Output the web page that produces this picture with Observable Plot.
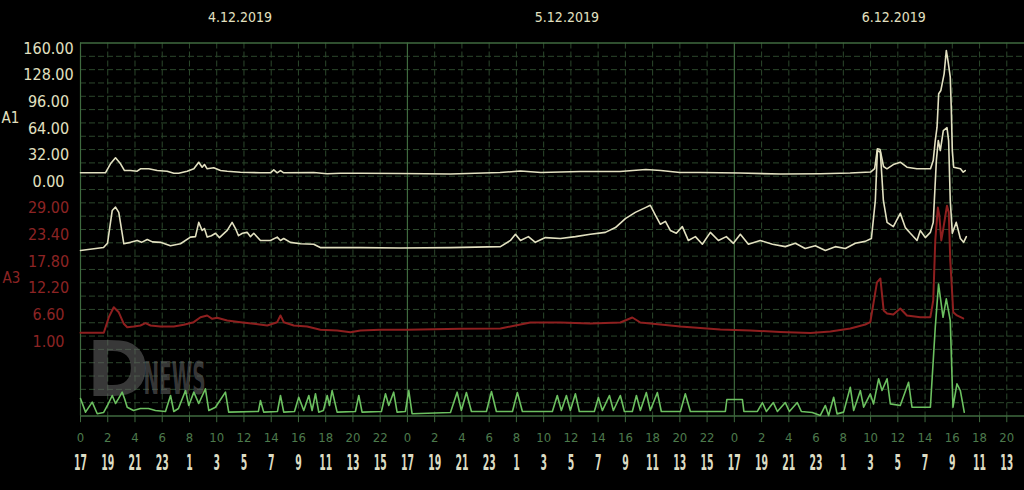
<!DOCTYPE html>
<html><head><meta charset="utf-8">
<script src="https://cdn.jsdelivr.net/npm/d3@7"></script>
<script src="https://cdn.jsdelivr.net/npm/@observablehq/plot@0.6"></script>
<style>
html,body{margin:0;padding:0;background:#000;}
#chart{width:1024px;height:490px;overflow:hidden;}
</style></head><body><div id="chart"></div>
<script>
// ---------- data (hours since 4.12.2019 00:00) ----------
const a1Hours = [0,1.83,2.2,2.57,2.94,3.23,3.67,4.16,4.4,5.01,5.63,6.36,6.85,7.21,7.83,8.32,8.68,8.93,9.1,9.3,9.78,10.28,10.77,11.74,13.21,13.94,14.19,14.44,14.68,14.92,17.12,18.1,19.08,20.55,23.49,27.16,30.8,32.3,33.8,36.7,39.6,41.5,42.6,44.0,45.5,48.4,51.4,54.3,56.5,58.0,58.3,58.5,58.7,58.95,59.2,59.67,60.18,60.67,61.4,62.4,62.6,62.75,62.88,63.0,63.16,63.4,63.56,63.7,63.85,63.93,64.0,64.1,64.6,64.8,64.95];
const a1Values = [4.1,4.1,14.9,22.1,14.9,6.8,6.8,6.0,8.9,8.9,6.8,6.0,3.6,3.6,6.0,8.9,16.8,10.8,14.1,8.9,10.1,6.8,6.0,4.8,4.1,4.1,7.7,4.1,6.8,4.1,4.4,2.9,3.6,3.6,3.2,2.6,4.4,6.2,4.4,5.6,5.6,8.0,6.8,4.4,4.4,3.8,2.6,2.9,3.8,5.0,9.2,32.9,32.0,11.7,8.9,14.0,16.8,10.8,8.9,8.9,18.9,42.9,58.9,99,103,123,151,136.6,119,79,31,10.8,8.9,4.8,6.8];

const a2Hours = [0,1.69,1.98,2.33,2.57,2.81,3.06,3.18,3.67,4.16,4.48,4.9,5.28,5.87,6.6,7.34,8.07,8.44,8.68,8.93,9.1,9.3,9.61,9.91,10.2,10.77,11.13,11.38,11.6,11.89,12.23,12.48,12.72,13.21,13.94,14.44,14.68,14.92,15.41,16.15,17.12,17.6,18.59,20.55,23.49,27.16,30.83,31.56,31.93,32.3,32.88,33.39,34.13,35.23,36.33,37.43,38.53,39.27,40.0,40.73,41.47,41.83,42.2,42.57,42.94,43.3,43.74,44.18,44.62,45.14,45.65,46.24,46.83,47.41,47.93,48.44,49.03,49.9,50.8,51.74,52.48,53.2,53.94,54.68,55.41,56.15,56.88,57.61,58.06,58.35,58.5,58.72,58.94,59.21,59.67,60.18,60.55,60.92,61.41,61.65,62.02,62.39,62.6,62.83,62.97,63.12,63.34,63.61,63.73,63.85,64.0,64.29,64.59,64.83,65.03];
const a2Values = [19.0,19.6,20.5,27.4,28.1,27.0,22.6,20.4,20.7,21.1,20.7,21.3,20.8,20.7,20.0,20.4,21.8,21.9,24.9,23.2,23.6,21.8,22.1,22.6,21.7,23.2,24.9,23.6,22.1,22.6,22.8,21.9,22.6,21.1,21.1,21.8,21.1,21.5,20.7,20.4,20.3,19.6,19.6,19.6,19.5,19.6,19.8,21.1,22.4,21.1,21.9,20.7,21.7,21.5,21.9,22.4,22.8,23.8,25.7,27.0,28.0,28.5,26.4,24.5,25.1,23.2,22.6,24.0,21.1,21.9,20.3,22.8,21.1,21.9,20.5,22.4,20.3,21.1,20.3,19.8,20.5,19.4,20.0,19.0,19.8,19.4,20.5,20.9,21.5,29.5,40.0,39.6,29.5,24.9,24.0,26.8,23.8,22.6,21.1,23.2,21.7,22.8,24.9,37.9,42.1,40.0,44.2,44.8,42.1,29.5,22.6,24.9,21.5,20.7,21.9];

const a3Hours = [0,1.71,2.08,2.44,2.81,3.18,3.43,3.91,4.4,4.77,5.14,5.87,6.85,7.58,8.31,8.81,9.3,9.67,10.03,10.77,11.74,12.72,13.71,14.44,14.68,14.92,15.66,16.64,17.61,18.84,19.82,20.55,22.0,23.98,27.89,30.83,31.93,33.03,35.23,37.43,39.63,40.51,41.1,42.57,44.04,45.5,46.97,49.17,51.38,53.58,55.05,56.51,57.61,57.98,58.47,58.72,58.96,59.21,59.67,60.18,60.67,61.65,62.39,62.6,62.75,62.94,63.05,63.19,63.34,63.61,63.74,63.85,64.07,64.34,64.8];
const a3Values = [1.69,1.69,4.97,7.07,6.0,3.58,2.87,3.01,3.22,3.71,3.22,3.01,3.01,3.37,3.92,4.97,5.33,4.63,4.84,4.27,3.92,3.58,3.22,3.92,5.33,3.92,3.22,3.01,2.32,2.17,1.82,2.17,2.32,2.32,2.53,2.59,3.22,3.85,3.85,3.64,3.85,4.9,3.85,3.43,3.01,2.7,2.38,2.17,1.86,1.65,1.96,2.59,3.43,3.92,12.3,13.1,6.38,5.75,5.54,6.8,5.33,4.97,4.97,8.48,21.1,28.0,26.3,21.1,23.6,28.4,27.0,16.9,6.02,5.33,4.7];

const a4Hours = [0,0.37,0.86,1.23,1.69,1.98,2.33,2.57,2.79,3.06,3.23,3.43,3.89,4.4,4.99,5.5,6.24,6.61,6.85,7.19,7.71,7.95,8.32,8.68,9.17,9.42,9.91,10.64,10.88,13.06,13.21,13.45,14.46,14.68,14.92,15.71,16.02,16.39,16.76,17.0,17.25,17.49,17.83,18.11,18.28,18.47,18.84,20.18,20.43,20.67,22.09,22.39,22.63,22.99,23.24,23.85,24.1,24.34,27.16,27.65,27.96,28.33,28.7,29.8,30.17,30.53,31.71,32.07,32.44,34.64,35.0,35.3,35.67,35.96,36.33,36.62,37.72,38.02,38.31,38.83,39.12,39.63,39.93,40.51,40.81,41.1,41.54,41.83,42.35,42.64,44.04,44.4,44.77,47.34,47.45,48.59,48.7,49.69,50.06,50.35,50.86,51.16,51.74,52.04,52.62,52.92,53.72,54.31,54.68,54.92,55.29,55.54,56.02,56.51,56.76,57.25,57.49,57.98,58.22,58.59,58.84,59.21,59.45,60.18,60.79,61.04,62.39,62.75,62.99,63.32,63.56,63.85,64.05,64.34,64.59,64.88];
const a4Values = [13.1,2.9,10.4,1.7,2.6,7.9,15.4,9.4,13.1,17.9,13.1,6.6,4.1,5.6,5.6,4.1,3.4,15.4,3.4,5.6,19.1,7.9,17.9,9.4,20.4,4.1,6.6,17.9,2.9,3.4,11.6,2.9,3.4,15.4,2.9,3.4,14.1,4.1,15.4,4.1,16.7,2.9,4.1,15.4,7.9,19.1,2.9,3.4,15.4,2.9,3.4,16.7,7.9,17.9,2.9,3.4,19.1,1.7,2.6,17.9,4.1,17.6,3.4,3.4,18.4,3.4,3.4,17.6,3.4,3.4,15.4,4.1,15.4,4.1,16.7,3.4,3.4,13.9,4.1,15.4,4.1,15.4,3.4,3.4,15.4,4.1,17.6,4.1,17.6,3.4,3.4,16.7,3.4,3.4,12.4,12.4,3.4,3.4,10.1,3.4,10.1,3.4,10.1,3.4,10.1,3.4,2.6,0.4,7.9,0.4,14.1,1.6,2.9,21.6,4.1,19.1,6.6,16.6,9.1,27.9,19.1,27.9,9.1,7.9,25.3,6.6,6.6,66.6,99.1,74.1,87.9,71.6,6.6,24.2,19.1,2.8];

const a1Ticks = [0, 32, 64, 96, 128, 160];
const a3Ticks = [1.00, 6.60, 12.20, 17.80, 23.40, 29.00];
const dayLabels = ["4.12.2019", "5.12.2019", "6.12.2019"];
const dayNoon = [12, 36, 60];
const dayStarts = [0, 24, 48];
const tickHours = [0,2,4,6,8,10,12,14,16,18,20,22,24,26,28,30,32,34,36,38,40,42,44,46,48,50,52,54,56,58,60,62,64,66,68];
const hourLabels = ["0","2","4","6","8","10","12","14","16","18","20","22","0","2","4","6","8","10","12","14","16","18","20","22","0","2","4","6","8","10","12","14","16","18","20"];
const localLabels = ["17","19","21","23","1","3","5","7","9","11","13","15","17","19","21","23","1","3","5","7","9","11","13","15","17","19","21","23","1","3","5","7","9","11","13"];

// ---------- panel mapping (grid rows, 0 = bottom) ----------
const rowA1 = v => 18 + v / 16;
const rowA3 = v => 6 + (v - 1) / 2.8;
const rowA4 = v => v / 10;
const gridRows = d3.range(1, 28);
const series = (hours, values, f) => hours.map((h, i) => ({h, r: f(values[i])}));

const cream = "#e2e0c0", red = "#8e1f1f", green = "#6cc060";
const grid = "#2c472c", frame = "#3f6a3f";
const font = "'Liberation Sans Narrow','DejaVu Sans Condensed',sans-serif";

const plot = Plot.plot({
  width: 1024, height: 490,
  marginTop: 42.5, marginBottom: 74.5, marginLeft: 80, marginRight: 0,
  style: {background: "#000", fontFamily: font},
  x: {domain: [0, 69.3], axis: null},
  y: {domain: [0, 28], axis: null},
  marks: [
    Plot.ruleY(gridRows, {stroke: grid, strokeWidth: 1, strokeDasharray: "6,3"}),
    Plot.ruleX(tickHours.filter(h => h % 24 !== 0), {stroke: grid, strokeWidth: 1, strokeDasharray: "6,3"}),
    Plot.ruleX(dayStarts, {stroke: frame, strokeWidth: 1.2}),
    Plot.ruleY([0, 28], {stroke: frame, strokeWidth: 1.5}),
    Plot.ruleX(tickHours, {y1: 0, y2: -0.5, stroke: frame, strokeWidth: 1}),
    // watermark
    Plot.text(["D"], {frameAnchor: "bottom-left", lineAnchor: "bottom", textAnchor: "start", dx: 6, dy: -20, fill: "#666", fillOpacity: 0.55, fontSize: 76, fontWeight: "bold", fontFamily: "'DejaVu Sans'"}),
    Plot.text(["NEWS"], {frameAnchor: "bottom-left", lineAnchor: "bottom", textAnchor: "start", dx: 63, dy: -22, fill: "#666", fillOpacity: 0.55, fontSize: 44, fontWeight: "bold", className: "wmark"}),
    // series
    Plot.line(series(a4Hours, a4Values, rowA4), {x: "h", y: "r", stroke: green, strokeWidth: 1.6}),
    Plot.line(series(a3Hours, a3Values, rowA3), {x: "h", y: "r", stroke: red, strokeWidth: 2}),
    Plot.line(series(a2Hours, a2Values, rowA3), {x: "h", y: "r", stroke: cream, strokeWidth: 1.6}),
    Plot.line(series(a1Hours, a1Values, rowA1), {x: "h", y: "r", stroke: cream, strokeWidth: 1.6}),
    // left axes
    Plot.text(a1Ticks, {y: d => rowA1(d), frameAnchor: "left", dx: -32, dy: 5.5, text: d => d.toFixed(2), fill: cream, fontSize: 16, textAnchor: "middle"}),
    Plot.text(a3Ticks, {y: d => rowA3(d), frameAnchor: "left", dx: -32, dy: 5.5, text: d => d.toFixed(2), fill: "#8c2424", fontSize: 16, textAnchor: "middle"}),
    Plot.text(["A1"], {y: rowA1(80), frameAnchor: "left", dx: -70, dy: 9, fill: cream, fontSize: 15, textAnchor: "middle"}),
    Plot.text(["A3"], {y: rowA3(15), frameAnchor: "left", dx: -69, dy: 9, fill: "#8c2424", fontSize: 15, textAnchor: "middle"}),
    // top date labels
    Plot.text(dayLabels, {x: (d, i) => dayNoon[i], frameAnchor: "top", lineAnchor: "middle", dy: -25.5, dx: -4, fill: cream, fontSize: 14}),
    // bottom hour labels
    Plot.text(tickHours, {x: d => d, frameAnchor: "bottom", lineAnchor: "middle", dy: 21.5, text: (d, i) => hourLabels[i], fill: "#4d7a4d", fontSize: 13}),
    Plot.text(tickHours, {x: d => d, frameAnchor: "bottom", lineAnchor: "middle", dy: 47, text: (d, i) => localLabels[i], fill: "#dcdcc4", fontSize: 22, fontWeight: "bold", className: "bigLabels"})
  ]
});
document.getElementById("chart").appendChild(plot);
d3.select(plot).selectAll(".bigLabels text").each(function() {
  const t = this.textContent;
  this.setAttribute("textLength", t.length * 6.5);
  this.setAttribute("lengthAdjust", "spacingAndGlyphs");
});
d3.select(plot).selectAll(".wmark text").each(function() {
  this.setAttribute("textLength", 62);
  this.setAttribute("lengthAdjust", "spacingAndGlyphs");
});
</script></body></html>
